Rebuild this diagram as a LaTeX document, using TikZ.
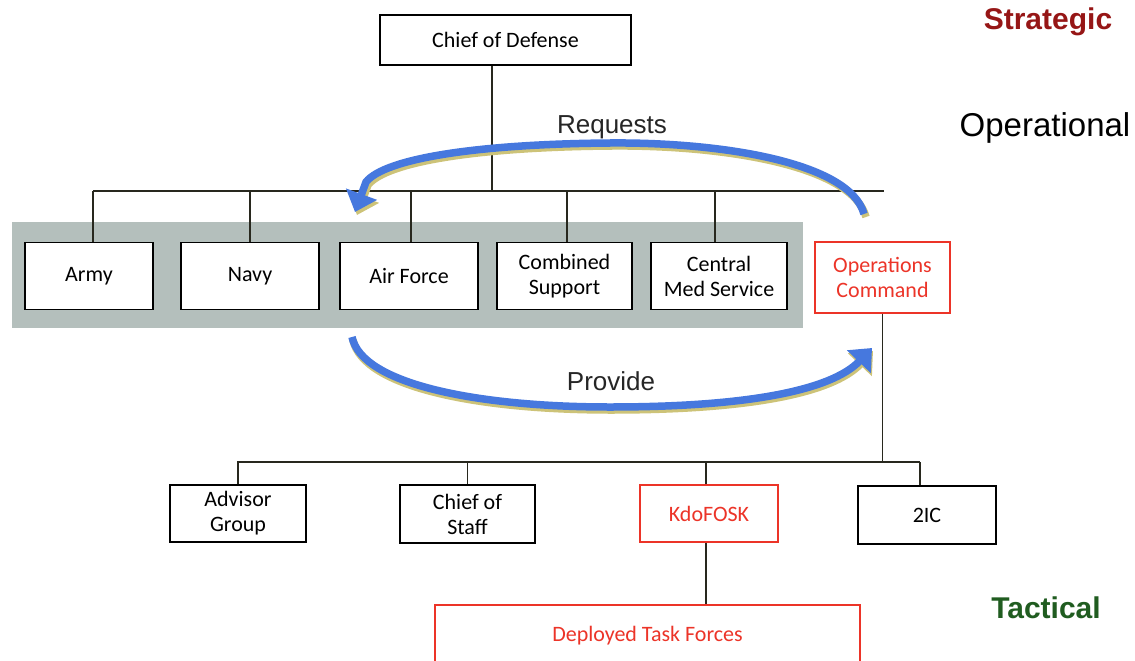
\documentclass[tikz,border=0pt]{standalone}
\usepackage{fontspec}
\setmainfont{Carlito}
\newfontfamily\arialf{Liberation Sans}
\usetikzlibrary{arrows.meta}
\definecolor{panelgray}{RGB}{180,191,188}
\definecolor{opsred}{RGB}{236,52,40}
\definecolor{stratred}{RGB}{150,22,22}
\definecolor{tacgreen}{RGB}{32,92,32}
\definecolor{arrowblue}{RGB}{70,120,222}
\definecolor{shadowol}{RGB}{205,195,120}
\definecolor{linecol}{RGB}{40,40,30}
\tikzset{
  unit/.style={draw=black, line width=1.3pt, fill=white, align=center,
    font=\fontsize{22}{25}\selectfont, inner sep=2pt},
  redunit/.style={unit, draw=opsred, text=opsred},
  conn/.style={draw=linecol, line width=1.4pt},
  bigarrow/.style={line width=7.5pt, arrowblue, -{Triangle[width=32pt,length=19pt]}},
  bigshadow/.style={line width=7.5pt, shadowol, -{Triangle[width=32pt,length=19pt]}},
  arrowlabel/.style={font=\arialf\fontsize{26}{29}\selectfont, text=black!85},
  level/.style={font=\arialf\fontsize{33}{36}\selectfont, anchor=center}
}
\begin{document}
\begin{tikzpicture}[x=1pt, y=-1pt]
\useasboundingbox (0,0) rectangle (1135,661);
% gray panel
\fill[panelgray] (12,222) rectangle (803,328);

% boxes
\node[unit, minimum width=251pt, minimum height=50pt] (cod) at (505.5,40) {Chief of Defense};
\node[unit, minimum width=128pt, minimum height=67pt] (army) at (89,276) {Army};
\node[unit, minimum width=138pt, minimum height=67pt] (navy) at (250,276) {Navy};
\node[unit, minimum width=138pt, minimum height=67pt] (airforce) at (409,276) {Air Force};
\node[unit, minimum width=135pt, minimum height=67pt] (combined) at (564.5,276) {Combined\\Support};
\node[unit, minimum width=136pt, minimum height=67pt] (central) at (719,276) {Central\\Med Service};
\node[redunit, minimum width=135pt, minimum height=71pt] (ops) at (882.5,277.5) {Operations\\Command};

\node[unit, minimum width=136pt, minimum height=57pt] (advisor) at (238,513.5) {Advisor\\Group};
\node[unit, minimum width=135pt, minimum height=58pt] (cos) at (467.5,514) {Chief of\\Staff};
\node[redunit, minimum width=138pt, minimum height=57pt] (kdo) at (709,513.5) {KdoFOSK};
\node[unit, minimum width=138pt, minimum height=58pt] (twoic) at (927,515) {2IC};
\node[redunit, minimum width=425pt, minimum height=70pt, text depth=12pt] (dtf) at (647.5,640) {Deployed Task Forces};

% top bus
\coordinate (b1) at (492,191);
\coordinate (b1L) at (93,191);
\coordinate (b1R) at (884,191);
\draw[conn] (cod.south -| b1) -- (b1);
\draw[conn] (b1L) -- (b1R);
\draw[conn] (army.north) ++(4,0) coordinate (armyt) -- (armyt |- b1);
\draw[conn] (navy.north) -- (navy.north |- b1);
\draw[conn] (airforce.north) ++(2,0) coordinate (aft) -- (aft |- b1);
\draw[conn] (combined.north) ++(2.5,0) coordinate (cst) -- (cst |- b1);
\draw[conn] (central.north) ++(-4,0) coordinate (cmt) -- (cmt |- b1);

% lower bus
\coordinate (b2L) at (237,462);
\coordinate (b2R) at (920,462);
\draw[conn] (ops.south) -- (ops.south |- b2L);
\draw[conn] (b2L) -- (b2R);
\draw[conn] (advisor.north) -- (advisor.north |- b2L);
\draw[conn] (cos.north) -- (cos.north |- b2L);
\draw[conn] (kdo.north) ++(-3,0) coordinate (kdt) -- (kdt |- b2L);
\draw[conn] (twoic.north -| b2R) -- (b2R);
\draw[conn] (kdt |- kdo.south) -- (kdt |- dtf.north);

% Requests arrow
\begin{scope}[shift={(2,3)}]
\draw[bigshadow] (864,214) .. controls (850,162) and (720,142) .. (610,143) .. controls (480,144) and (385,158) .. (366,182) -- (355,212);
\end{scope}
\draw[bigarrow] (864,214) .. controls (850,162) and (720,142) .. (610,143) .. controls (480,144) and (385,158) .. (366,182) -- (355,212);
\node[arrowlabel] (req) at (612,127) {Requests};

% Provide arrow
\begin{scope}[shift={(1,3)}]
\draw[bigshadow] (352,337) .. controls (362,385) and (480,407) .. (610,407) .. controls (740,407) and (830,392) .. (872,348);
\end{scope}
\draw[bigarrow] (352,337) .. controls (362,385) and (480,407) .. (610,407) .. controls (740,407) and (830,392) .. (872,348);
\node[arrowlabel] (prov) at (611,381) {Provide};

% level labels
\node[level, font=\arialf\bfseries\fontsize{30}{33}\selectfont, text=stratred] (strat) at (1048,22) {Strategic};
\node[level, text=black] (oper) at (1045,128) {Operational};
\node[level, font=\arialf\bfseries\fontsize{30}{33}\selectfont, text=tacgreen] (tact) at (1046,608) {Tactical};
\end{tikzpicture}
\end{document}
